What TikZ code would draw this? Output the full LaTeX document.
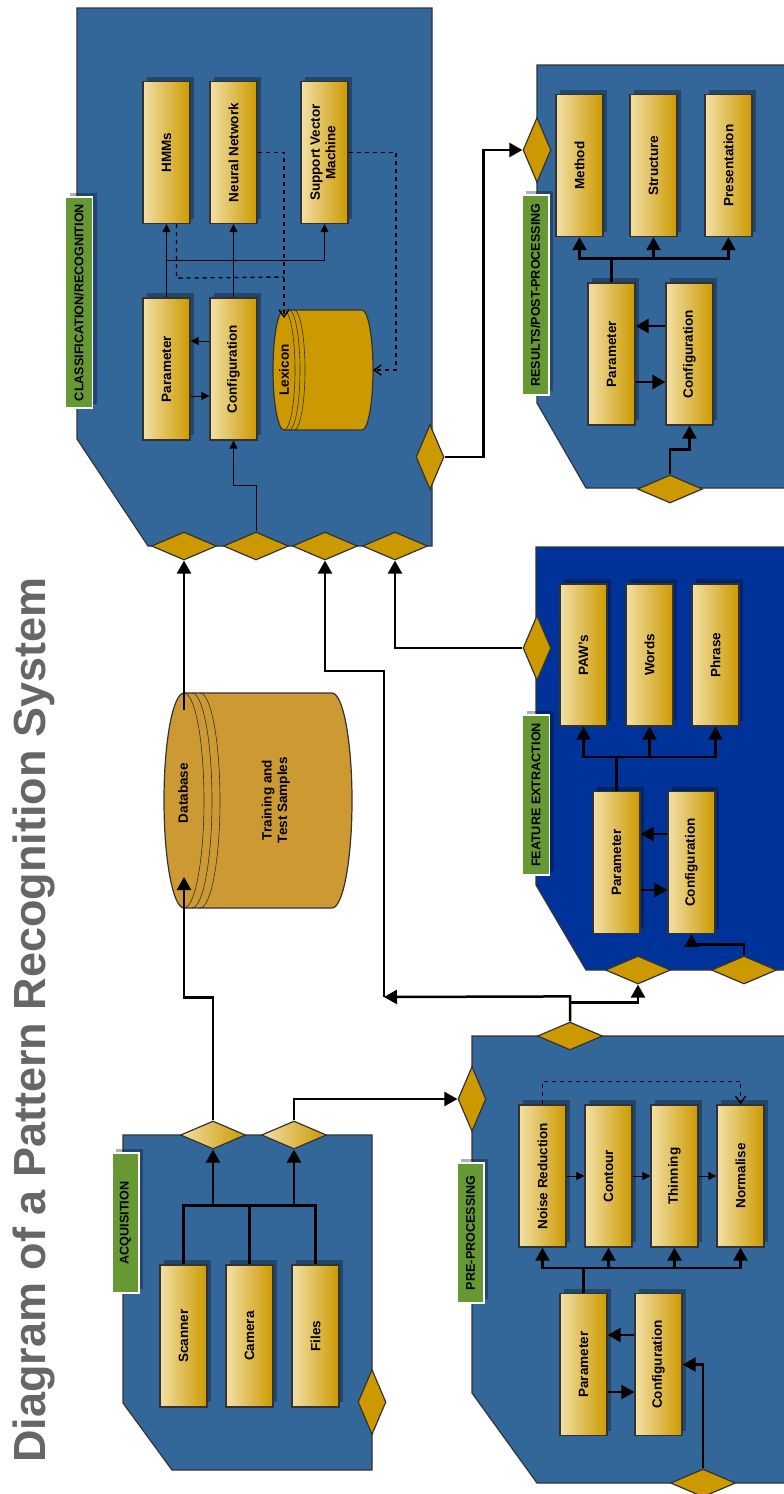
\documentclass[tikz,border=0pt]{standalone}
\usepackage{fontspec}
\setmainfont{Liberation Sans}
\usetikzlibrary{shapes.geometric,arrows.meta,calc}
\definecolor{panelblue}{HTML}{336699}
\definecolor{feblue}{HTML}{003399}
\definecolor{gold}{HTML}{CC9900}
\definecolor{goldlight}{HTML}{F2E0A6}
\definecolor{lgreen}{HTML}{669933}
\definecolor{dbgold}{HTML}{CC9933}
\definecolor{edge}{HTML}{333333}
\definecolor{titlegray}{HTML}{666666}
\tikzset{
  panel/.style={draw=edge, line width=1.2pt},
  shd/.style={fill=black, opacity=0.3},
  gbx/.style={draw=edge, line width=1.3pt, left color=goldlight, right color=gold,
    minimum width=47pt, minimum height=142pt, inner sep=0pt,
    font=\bfseries\fontsize{13.5}{15.5}\selectfont},
  glab/.style={draw=white, line width=1.5pt, fill=lgreen, minimum width=27pt,
    inner sep=0pt, font=\bfseries\fontsize{12.6}{14}\selectfont},
  dia/.style={diamond, draw=edge, line width=1.2pt, fill=gold, inner sep=0pt,
    minimum width=65pt, minimum height=28pt},
  vdia/.style={dia, minimum width=28pt, minimum height=65pt},
  gdia/.style={dia, left color=goldlight, right color=gold},
  cyl/.style={draw=edge, line width=1.2pt},
  rim/.style={draw=edge, line width=0.6pt},
  ln/.style={line width=2.5pt},
  arr/.style={line width=2.5pt, -{Triangle[length=13pt,width=14pt]}},
  tln/.style={line width=1pt},
  tarr/.style={line width=1pt, -{Triangle[length=8pt,width=8pt]}},
  dsh/.style={line width=1.4pt, dash pattern=on 4pt off 4pt},
  darr/.style={dsh, -{Straight Barb[length=7pt,width=10pt,line width=1.4pt]}},
}
\newcommand\gbox[5][142]{%
  \fill[shd] ({#3-23.5+4},{#4-#1/2-5}) rectangle ++(47,#1);
  \node[gbx,minimum height=#1] (#2) at (#3,#4) {\rotatebox{90}{#5}};}
\newcommand\glabel[5]{%
  \fill[shd] ({#2-13.5+4},{#3-#4/2-4}) rectangle ++(27,#4);
  \node[glab,minimum height=#4] (#1) at (#2,#3) {\rotatebox{90}{#5}};}
\begin{document}
\begin{tikzpicture}[x=1pt,y=-1pt]
\useasboundingbox (0,0) rectangle (784,1494);
\fill[white] (0,0) rectangle (784,1494);
\clip (0,0) rectangle (784,1494);

% title
\node[rotate=90, anchor=base, text=titlegray, inner sep=0pt,
  font=\bfseries\fontsize{45}{50}\selectfont] (title) at (45,1020)
  {Diagram of a Pattern Recognition System};

% panels
\draw[panel, fill=panelblue] (77,8) -- (432,8) -- (432,546) -- (148,546) -- (77,439) -- cycle;
\draw[panel, fill=panelblue] (537,65) -- (800,65) -- (800,488) -- (586,488) -- (537,403) -- cycle;
\draw[panel, fill=feblue] (536,547) -- (800,547) -- (800,970) -- (586,970) -- (536,885) -- cycle;
\draw[panel, fill=panelblue] (123,1135) -- (372,1135) -- (372,1470) -- (172,1470) -- (123,1403) -- cycle;
\draw[panel, fill=panelblue] (472,1036) -- (800,1036) -- (800,1483) -- (537,1483) -- (472,1393) -- cycle;

% labels
\glabel{lclass}{79}{302.5}{211}{CLASSIFICATION/RECOGNITION}
\glabel{lres}{535.5}{295}{200}{RESULTS/POST-PROCESSING}
\glabel{lfe}{536}{795}{160}{FEATURE EXTRACTION}
\glabel{lacq}{125.5}{1223}{140}{ACQUISITION}
\glabel{lpp}{470.5}{1233}{140}{PRE-PROCESSING}

% classification boxes
\gbox{hmm}{166.5}{152.5}{HMMs}
\gbox{nn}{233.5}{152.5}{Neural Network}
\gbox{svm}{324.5}{152.5}{\begin{tabular}{@{}c@{}}Support Vector\\Machine\end{tabular}}
\gbox{cpar}{166.5}{369}{Parameter}
\gbox{ccfg}{233.5}{369}{Configuration}

% lexicon cylinder
\draw[cyl, fill=gold] (284,310) -- (362,310)
  arc[start angle=-90,end angle=90,x radius=11,y radius=60] -- (284,430)
  arc[start angle=90,end angle=270,x radius=11,y radius=60] -- cycle;
\draw[rim] (284,310) arc[start angle=-90,end angle=90,x radius=11,y radius=60];
\draw[rim] (289,310) arc[start angle=-90,end angle=90,x radius=11,y radius=60];
\draw[rim] (294,310) arc[start angle=-90,end angle=90,x radius=11,y radius=60];
\node[font=\bfseries\fontsize{13.5}{15}\selectfont, rotate=90, inner sep=0pt] (lex) at (284,370) {Lexicon};

% results boxes
\gbox{rmeth}{579.5}{165.5}{Method}
\gbox{rstruct}{653.5}{165.5}{Structure}
\gbox{rpres}{728.5}{165.5}{Presentation}
\gbox{rpar}{611.5}{354}{Parameter}
\gbox{rcfg}{689.5}{354}{Configuration}

% feature extraction boxes
\gbox{paw}{583.5}{655}{PAW's}
\gbox{words}{649.5}{655}{Words}
\gbox{phrase}{715.5}{655}{Phrase}
\gbox{fpar}{616.5}{862.5}{Parameter}
\gbox{fcfg}{691.5}{862.5}{Configuration}

% acquisition boxes
\gbox{scanner}{183.5}{1336}{Scanner}
\gbox{camera}{249.5}{1336}{Camera}
\gbox{files}{315.5}{1336}{Files}

% preprocessing boxes
\gbox{noise}{542.5}{1176}{Noise Reduction}
\gbox{contour}{608.5}{1176}{Contour}
\gbox{thin}{674.5}{1176}{Thinning}
\gbox{norm}{740.5}{1176}{Normalise}
\gbox{ppar}{583.5}{1364.5}{Parameter}
\gbox{pcfg}{658.5}{1364.5}{Configuration}

% database cylinder
\draw[cyl, fill=dbgold] (184,693) -- (332,693)
  arc[start angle=-90,end angle=90,x radius=20,y radius=107.5] -- (184,908)
  arc[start angle=90,end angle=270,x radius=20,y radius=107.5] -- cycle;
\draw[rim] (184,693) arc[start angle=-90,end angle=90,x radius=20,y radius=107.5];
\draw[rim] (192,693) arc[start angle=-90,end angle=90,x radius=20,y radius=107.5];
\draw[rim] (200,693) arc[start angle=-90,end angle=90,x radius=20,y radius=107.5];
\node[font=\bfseries\fontsize{13.5}{15.5}\selectfont, rotate=90, inner sep=0pt] (dbname) at (183,793) {Database};
\node[font=\bfseries\fontsize{13.5}{15.5}\selectfont, rotate=90, inner sep=0pt, align=center] (dbtext) at (276,800) {Training and\\Test Samples};
\coordinate (dbin) at (184,877);
\coordinate (dbout) at (184,710);

% diamonds
\node[dia] (c1) at (184,546) {};
\node[dia] (c2) at (256,546) {};
\node[dia] (c3) at (325,546) {};
\node[dia] (c4) at (395,546) {};
\node[vdia] (cr) at (430,457) {};
\node[vdia] (rl) at (537,150) {};
\node[dia] (rb) at (670,489) {};
\node[vdia] (fl) at (537,648) {};
\node[dia] (fb1) at (638,970) {};
\node[dia] (fb2) at (744,970) {};
\node[gdia] (a1) at (213,1135) {};
\node[gdia] (a2) at (294,1135) {};
\node[vdia] (ar) at (372,1402) {};
\node[dia] (pt) at (570,1036) {};
\node[vdia] (pl) at (472,1099) {};
\node[dia] (pb) at (703,1483) {};

% classification internal connectors
\draw[tarr] (cpar.north) -- (hmm.south);
\draw[tarr] ($(cpar.north)+(0,-37)$) -| (svm.south);
\draw[tarr] (ccfg.north) -- (nn.south);
\draw[tarr] ([yshift=28pt]ccfg.west) -- ([yshift=28pt]cpar.east);
\draw[tarr] ([yshift=-27pt]cpar.east) -- ([yshift=-27pt]ccfg.west);
\draw[tarr] (c2.north) -- ++(0,-46) -| (ccfg.south);
\draw[dsh] ($(hmm.south)+(10,0)$) -- ++(0,54) -- (284,277);
\draw[darr] (nn.east) -- (284,152.5) -- (284,318);
\draw[darr] (svm.east) -- (396,152.5) -- (396,370) -- (373,370);

% results internal connectors
\draw[ln] (rpar.north) -- ++(0,-24) coordinate (rbus);
\draw[arr] (rbus) -| (rmeth.south);
\draw[arr] (rbus) -| (rpres.south);
\draw[arr] (rstruct.south |- rbus) -- (rstruct.south);
\draw[arr] ([yshift=28pt]rcfg.west) -- ([yshift=28pt]rpar.east);
\draw[arr] ([yshift=-28pt]rpar.east) -- ([yshift=-28pt]rcfg.west);
\draw[arr] (rb.north) -- ++(0,-25) -| (rcfg.south);

% feature extraction internal connectors
\draw[ln] (fpar.north) -- ++(0,-34) coordinate (fbus);
\draw[arr] (fbus) -| (paw.south);
\draw[arr] (fbus) -| (phrase.south);
\draw[arr] (words.south |- fbus) -- (words.south);
\draw[arr] ([yshift=28.5pt]fcfg.west) -- ([yshift=28.5pt]fpar.east);
\draw[arr] ([yshift=-27.5pt]fpar.east) -- ([yshift=-27.5pt]fcfg.west);
\draw[arr] (fb2.north) -- ++(0,-11) -| (fcfg.south);

% acquisition internal connectors
\draw[ln] (scanner.north) -- ++(0,-59) coordinate (abus) -| (files.north);
\draw[ln] (camera.north) -- ++(0,-59);
\draw[arr] (a1.south |- abus) -- (a1.south);
\draw[arr] (a2.south |- abus) -- (a2.south);

% preprocessing internal connectors
\draw[tarr] (noise.east) -- (contour.west);
\draw[tarr] (contour.east) -- (thin.west);
\draw[tarr] (thin.east) -- (norm.west);
\draw[darr] (noise.north) -- ++(0,-23) -| (norm.north);
\draw[ln] (ppar.north) -- ++(0,-25) coordinate (pbus);
\draw[arr] (pbus) -| (noise.south);
\draw[arr] (pbus) -| (norm.south);
\draw[arr] (contour.south |- pbus) -- (contour.south);
\draw[arr] (thin.south |- pbus) -- (thin.south);
\draw[arr] ([yshift=29.5pt]pcfg.west) -- ([yshift=29.5pt]ppar.east);
\draw[arr] ([yshift=-27.5pt]ppar.east) -- ([yshift=-27.5pt]pcfg.west);
\draw[arr] (pb.north) |- (pcfg.east);

% external connectors
\draw[arr] (a1.north) -- ++(0,-123) -| (dbin);
\draw[arr] (dbout) -- (c1.south);
\draw[arr] (a2.north) |- (pl.west);
\coordinate (jn) at (384,997);
\coordinate (jup) at (384,671);
\draw[arr] (pt.north) -- ++(0,-25) -- (jn);
\draw[arr] (jn) -- (jup) -| (c3.south);
\draw[arr] ($(pt.north)+(0,-19)$) -| (fb1.south);
\draw[arr] (fl.west) -| (c4.south);
\draw[arr] (cr.east) -- ++(39,0) |- (rl.west);
\end{tikzpicture}
\end{document}
